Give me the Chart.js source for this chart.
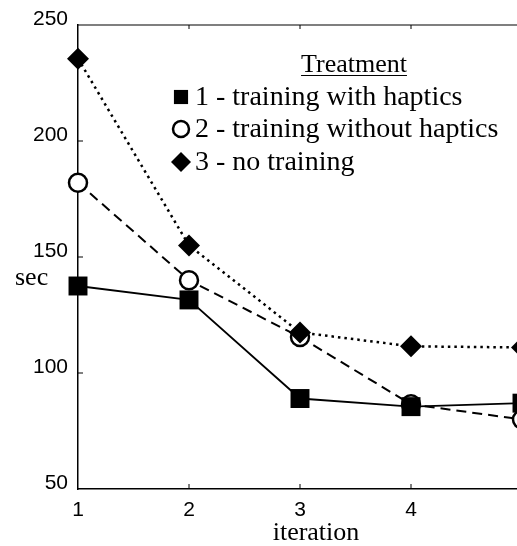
<!DOCTYPE html>
<html>
<head>
<meta charset="utf-8">
<script src="https://cdn.jsdelivr.net/npm/chart.js@4.4.1/dist/chart.umd.min.js"></script>
<style>
    html, body { margin: 0; padding: 0; background: #fff; overflow: hidden; }
    #wrap { width: 560px; height: 546px; }
</style>
</head>
<body>
<div id="wrap"><canvas id="chart"></canvas></div>
<script>
// mean completion time per iteration, one list per treatment group
const iterations = [1, 2, 3, 4, 5];
const withHaptics = [137.5, 131.5, 89, 85.5, 87];
const withoutHaptics = [182, 140, 115.5, 86.5, 80];
const noTraining = [235.5, 155, 117.5, 111.5, 111];
const seriesLabels = ['1 - training with haptics', '2 - training without haptics', '3 - no training'];
const yRange = [50, 250];
const yStep = 50;
const legendTitle = 'Treatment';
const xTitle = 'iteration';
const yTitle = 'sec';

const SERIF = '"Liberation Serif", "Times New Roman", serif';
const SANS = '"Liberation Sans", Arial, sans-serif';

function points(values) {
    return values.map((v, i) => ({x: iterations[i], y: v}));
}

function drawMarker(ctx, ds, x, y, radius) {
    ctx.save();
    ctx.fillStyle = ds.pointBackgroundColor;
    ctx.strokeStyle = ds.pointBorderColor;
    ctx.lineWidth = ds.pointBorderWidth;
    Chart.helpers.drawPoint(ctx, {
        pointStyle: ds.pointStyle,
        radius: radius,
        rotation: 0,
        borderWidth: ds.pointBorderWidth
    }, x, y);
    ctx.restore();
}

// top edge and the little inward tick marks
const frame = {
    id: 'frame',
    beforeDatasetsDraw(chart) {
        const ctx = chart.ctx;
        const area = chart.chartArea;
        const xs = chart.scales.x;
        const ys = chart.scales.y;
        ctx.save();
        ctx.strokeStyle = '#000';
        ctx.lineWidth = 1.2;
        ctx.beginPath();
        ctx.moveTo(area.left, area.top);
        ctx.lineTo(area.right, area.top);
        ctx.stroke();
        ctx.lineWidth = 1;
        ctx.beginPath();
        xs.ticks.forEach(t => {
            if (t.value === xs.min || t.value === xs.max) return;
            const px = xs.getPixelForValue(t.value);
            ctx.moveTo(px, area.bottom);
            ctx.lineTo(px, area.bottom - 5);
            ctx.moveTo(px, area.top);
            ctx.lineTo(px, area.top + 4);
        });
        ys.ticks.forEach(t => {
            if (t.value === ys.min || t.value === ys.max) return;
            const py = ys.getPixelForValue(t.value);
            ctx.moveTo(area.left, py);
            ctx.lineTo(area.left + 5, py);
        });
        ctx.stroke();
        ctx.restore();
    },
    afterDraw(chart) {
        const ctx = chart.ctx;
        ctx.save();
        ctx.fillStyle = '#000';
        ctx.font = '26px ' + SERIF;
        ctx.textBaseline = 'alphabetic';

        // axis titles
        ctx.textAlign = 'left';
        ctx.fillText(yTitle, 15, 285);
        ctx.textAlign = 'center';
        ctx.fillText(xTitle, 316, 540);

        // legend block inside the plot
        ctx.fillText(legendTitle, 354, 72);
        const w = ctx.measureText(legendTitle).width;
        ctx.strokeStyle = '#000';
        ctx.lineWidth = 1.2;
        ctx.beginPath();
        ctx.moveTo(354 - w / 2, 75.5);
        ctx.lineTo(354 + w / 2, 75.5);
        ctx.stroke();

        ctx.font = '28px ' + SERIF;
        ctx.textAlign = 'left';
        const rows = [97, 129, 162];
        const sizes = [10, 8, 10];
        const order = [0, 2, 1];
        order.forEach((dsIndex, i) => {
            const ds = chart.data.datasets[dsIndex];
            drawMarker(ctx, ds, 181, rows[i], sizes[i]);
            ctx.fillStyle = '#000';
            ctx.fillText(ds.label, 195, rows[i] + 8);
        });
        ctx.restore();
    }
};

function loadChart() {
    Chart.defaults.font.family = SANS;
    Chart.defaults.font.size = 21;
    Chart.defaults.color = '#000';

    let ctx = document.getElementById('chart');
    return new Chart(ctx, {
        type: 'line',
        data: {
            datasets: [
                {
                    label: seriesLabels[0],
                    data: points(withHaptics),
                    order: 0,
                    borderColor: '#000',
                    borderWidth: 1.8,
                    pointStyle: 'rect',
                    pointRadius: 13.4,
                    pointBackgroundColor: '#000',
                    pointBorderColor: '#000',
                    pointBorderWidth: 0,
                    clip: false
                },
                {
                    label: seriesLabels[2],
                    data: points(noTraining),
                    order: 1,
                    borderColor: '#000',
                    borderWidth: 2.5,
                    borderDash: [2.5, 4],
                    pointStyle: 'rectRot',
                    pointRadius: 11,
                    pointBackgroundColor: '#000',
                    pointBorderColor: '#000',
                    pointBorderWidth: 0,
                    clip: false
                },
                {
                    label: seriesLabels[1],
                    data: points(withoutHaptics),
                    order: 2,
                    borderColor: '#000',
                    borderWidth: 2,
                    borderDash: [10, 6],
                    pointStyle: 'circle',
                    pointRadius: 9,
                    pointBackgroundColor: '#fff',
                    pointBorderColor: '#000',
                    pointBorderWidth: 2.5,
                    clip: false
                }
            ]
        },
        options: {
            responsive: true,
            maintainAspectRatio: false,
            animation: false,
            layout: {
                padding: {left: 0, top: 25, right: 38, bottom: 0}
            },
            plugins: {
                legend: {display: false},
                tooltip: {enabled: false}
            },
            scales: {
                x: {
                    type: 'linear',
                    min: iterations[0],
                    max: iterations[iterations.length - 1],
                    grid: {display: false, drawTicks: false},
                    border: {display: true, color: '#000', width: 1.5},
                    ticks: {stepSize: 1, padding: 9},
                    afterFit(scale) {
                        scale.height = 57;
                        scale.paddingLeft = 0;
                        scale.paddingRight = 0;
                    }
                },
                y: {
                    min: yRange[0],
                    max: yRange[1],
                    grid: {display: false, drawTicks: false},
                    border: {display: true, color: '#000', width: 1.5},
                    ticks: {stepSize: yStep, padding: 10, labelOffset: -6},
                    afterFit(scale) {
                        scale.width = 78;
                        scale.paddingTop = 0;
                        scale.paddingBottom = 0;
                    }
                }
            }
        },
        plugins: [frame]
    });
}

loadChart();
</script>
</body>
</html>
